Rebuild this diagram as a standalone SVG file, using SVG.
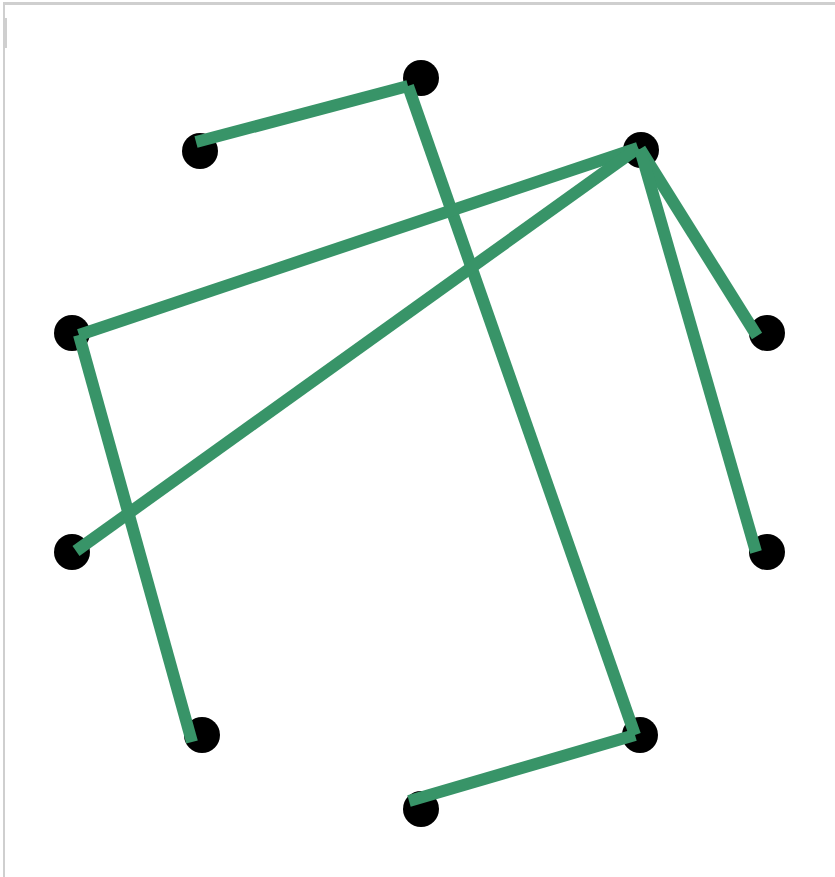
<svg xmlns="http://www.w3.org/2000/svg" width="835" height="877" viewBox="0 0 835 877">
<style>
.node{fill:#000}
.edge{stroke:#389468;stroke-width:12;stroke-linecap:butt;fill:none}
.frame{fill:#cfcfcf}
</style>
<rect x="0" y="0" width="835" height="877" fill="#fff"/>
<rect class="frame" x="3" y="2" width="832" height="3"/>
<rect class="frame" x="3" y="2" width="2" height="875"/>
<rect class="frame" x="3" y="18" width="4" height="30"/>
<g id="nodes">
<g id="n0"><circle class="node" cx="421" cy="78" r="18"/></g>
<g id="n1"><circle class="node" cx="641" cy="150" r="18"/></g>
<g id="n2"><circle class="node" cx="767" cy="333" r="18"/></g>
<g id="n3"><circle class="node" cx="767" cy="552" r="18"/></g>
<g id="n4"><circle class="node" cx="640" cy="735" r="18"/></g>
<g id="n5"><circle class="node" cx="421" cy="809" r="18"/></g>
<g id="n6"><circle class="node" cx="202" cy="735" r="18"/></g>
<g id="n7"><circle class="node" cx="72" cy="552" r="18"/></g>
<g id="n8"><circle class="node" cx="72" cy="333" r="18"/></g>
<g id="n9"><circle class="node" cx="200" cy="151" r="18"/></g>
</g>
<g id="connectors">
<line class="edge" x1="196" y1="142" x2="408" y2="86"/>
<line class="edge" x1="408" y1="86" x2="635" y2="735"/>
<line class="edge" x1="638" y1="148" x2="79" y2="335"/>
<line class="edge" x1="638" y1="148" x2="76" y2="551"/>
<line class="edge" x1="640" y1="149" x2="757" y2="336"/>
<line class="edge" x1="640" y1="149" x2="756" y2="552"/>
<line class="edge" x1="79" y1="335" x2="192" y2="742"/>
<line class="edge" x1="635" y1="735" x2="409" y2="801"/>
</g>
</svg>
